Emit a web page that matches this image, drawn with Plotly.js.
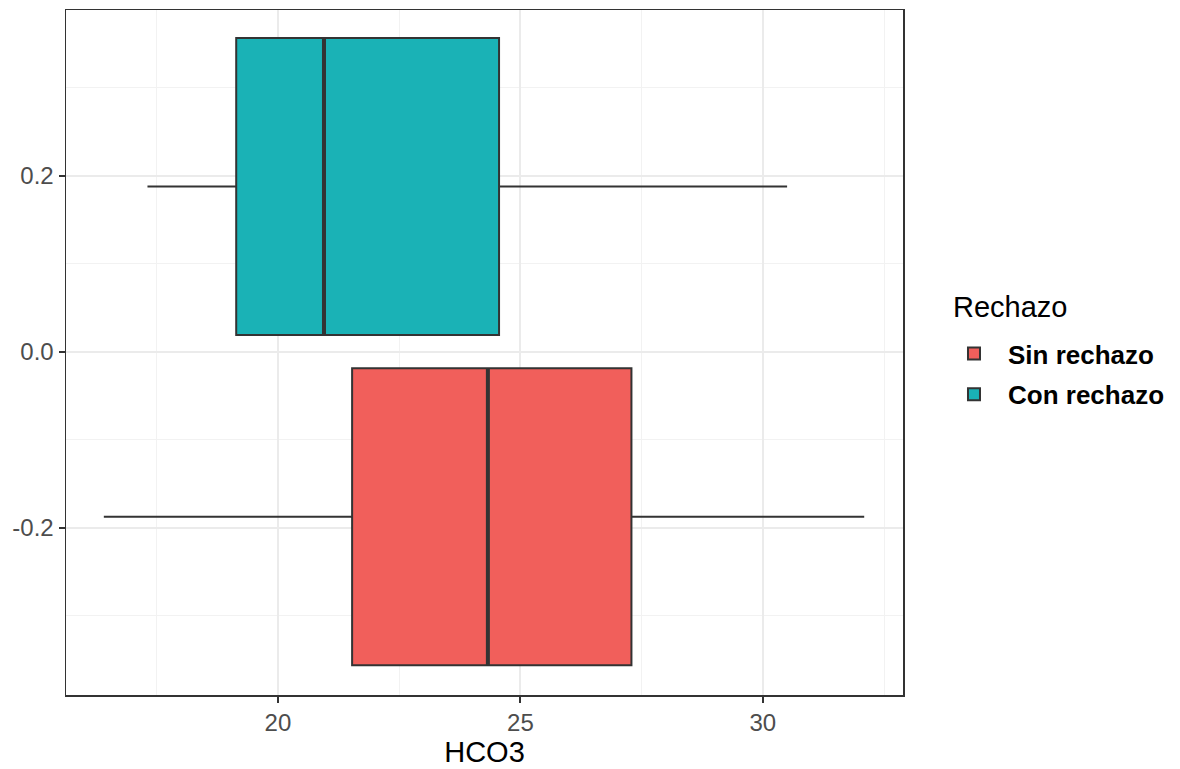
<!DOCTYPE html>
<html>
<head>
<meta charset="utf-8">
<script src="https://cdn.plot.ly/plotly-3.0.1.min.js"></script>
<style>html,body{margin:0;padding:0;background:#fff;}#chart{width:1180px;height:769px;}</style>
</head>
<body>
<div id="chart"></div>
<script>
const groups = ["Sin rechazo", "Con rechazo"];
const positions = [-0.1875, 0.1875];
const lowerWhisker = [16.41, 17.31];
const q1Values = [21.53, 19.14];
const medianValues = [24.33, 20.95];
const q3Values = [27.29, 24.56];
const upperWhisker = [32.09, 30.50];
const fillColors = ["#F15F5B", "#1AB2B6"];
const boxWidth = 0.3375;
const xTicks = [20, 25, 30];
const yTicks = [-0.2, 0.0, 0.2];
const yTickLabels = ["-0.2", "0.0", "0.2"];
const legendTitle = "Rechazo";
const xTitle = "HCO3";

const traces = [];
groups.forEach((g, i) => {
  traces.push({
    type: 'box',
    orientation: 'h',
    name: g,
    legendgroup: g,
    y: [positions[i]],
    q1: [q1Values[i]],
    median: [medianValues[i]],
    q3: [q3Values[i]],
    lowerfence: [lowerWhisker[i]],
    upperfence: [upperWhisker[i]],
    width: boxWidth,
    whiskerwidth: 0,
    fillcolor: fillColors[i],
    line: {color: '#333333', width: 2},
    hoverinfo: 'skip'
  });
});
groups.forEach((g, i) => {
  traces.push({
    type: 'scatter',
    mode: 'lines',
    x: [medianValues[i], medianValues[i]],
    y: [positions[i] - boxWidth / 2, positions[i] + boxWidth / 2],
    line: {color: '#333333', width: 4},
    showlegend: false,
    legendgroup: g,
    hoverinfo: 'skip'
  });
});

const layout = {
  width: 1180,
  height: 769,
  margin: {l: 66, r: 277, t: 10, b: 74},
  paper_bgcolor: '#ffffff',
  plot_bgcolor: '#ffffff',
  font: {family: 'Liberation Sans, Arial, sans-serif', color: '#4D4D4D'},
  xaxis: {
    range: [15.63, 32.89],
    tickvals: xTicks,
    ticktext: xTicks.map(String),
    showgrid: true,
    gridcolor: '#EBEBEB',
    gridwidth: 2,
    minor: {dtick: 2.5, tick0: 17.5, showgrid: true, gridcolor: '#F2F2F2', gridwidth: 1},
    zeroline: false,
    showline: true,
    mirror: true,
    linecolor: '#333333',
    linewidth: 1.5,
    ticks: 'outside',
    ticklen: 6,
    tickwidth: 2,
    tickcolor: '#333333',
    tickfont: {size: 24, color: '#4D4D4D'},
    title: {text: xTitle, font: {size: 29, color: '#000000'}, standoff: 6}
  },
  yaxis: {
    range: [-0.390, 0.388],
    tickvals: yTicks,
    ticktext: yTickLabels,
    showgrid: true,
    gridcolor: '#EBEBEB',
    gridwidth: 2,
    minor: {dtick: 0.2, tick0: 0.1, showgrid: true, gridcolor: '#F2F2F2', gridwidth: 1},
    zeroline: false,
    showline: true,
    mirror: true,
    linecolor: '#333333',
    linewidth: 1.5,
    ticks: 'outside',
    ticklen: 6,
    tickwidth: 2,
    tickcolor: '#333333',
    tickfont: {size: 24, color: '#4D4D4D'}
  },
  showlegend: true,
  legend: {
    x: 1.0442,
    xanchor: 'left',
    y: 0.5328,
    yanchor: 'top',
    font: {size: 26, color: '#000000', weight: 'bold'},
    traceorder: 'grouped',
    tracegroupgap: 4,
    itemwidth: 58,
    bgcolor: 'rgba(0,0,0,0)'
  },
  annotations: [{
    text: legendTitle,
    xref: 'paper', yref: 'paper',
    x: (951 - 66) / 837, y: (695 - 307) / 685,
    xanchor: 'left', yanchor: 'middle',
    showarrow: false,
    font: {size: 29, color: '#000000'}
  }]
};

Plotly.newPlot('chart', traces, layout, {displayModeBar: false, staticPlot: true});
</script>
</body>
</html>
